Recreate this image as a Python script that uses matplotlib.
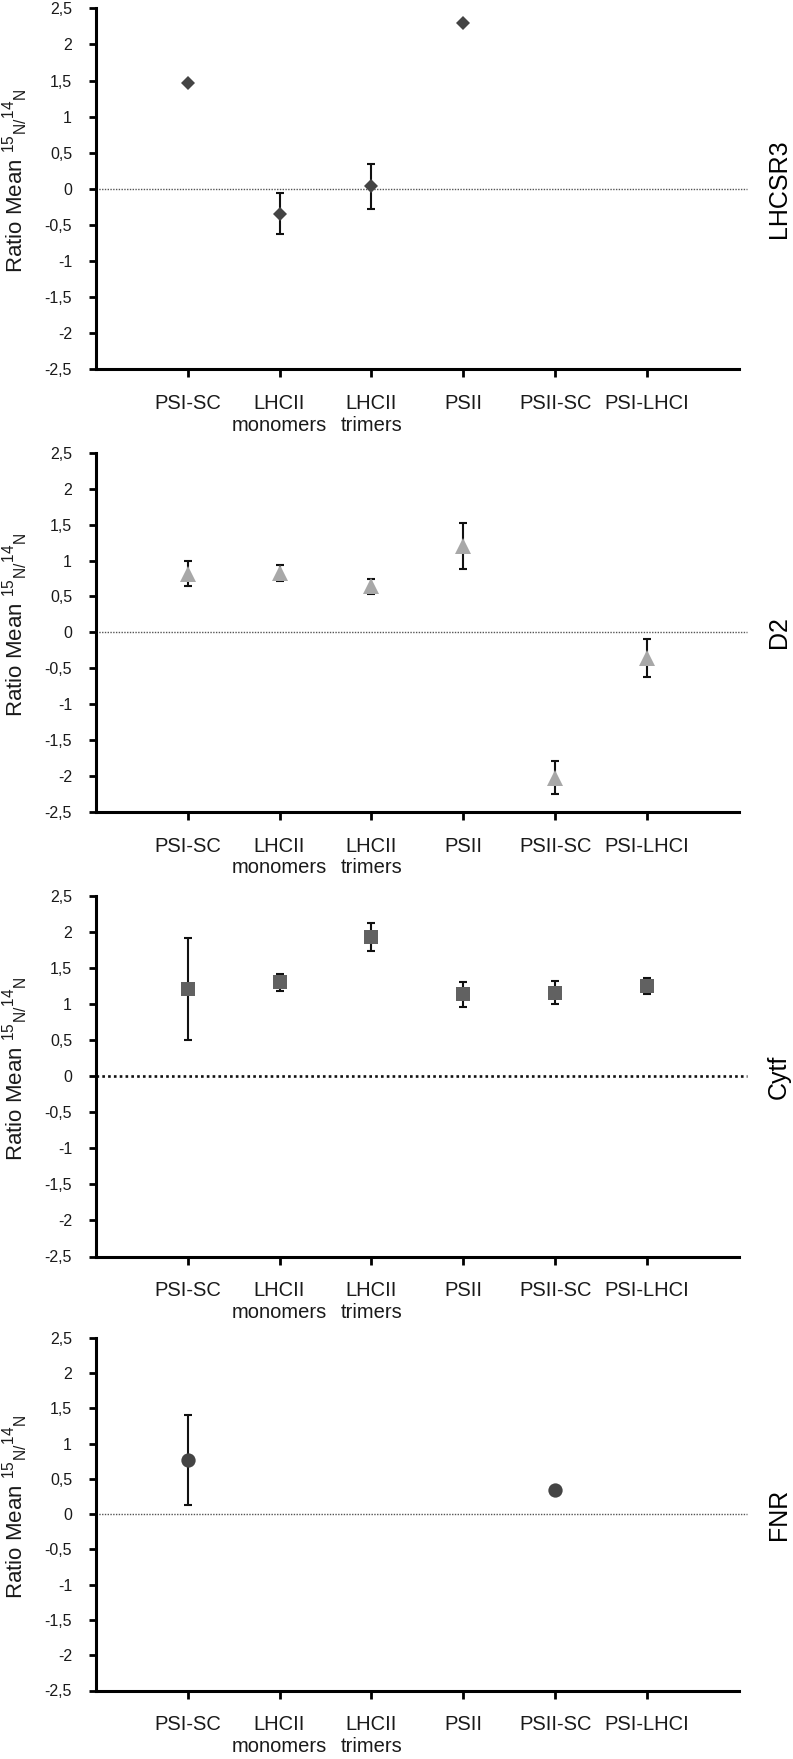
import numpy as np
import matplotlib
matplotlib.use("Agg")
import matplotlib.pyplot as plt
from matplotlib.transforms import blended_transform_factory

plt.rcParams['font.family'] = ['Liberation Sans', 'DejaVu Sans']
plt.rcParams['mathtext.fontset'] = 'custom'
plt.rcParams['mathtext.rm'] = 'Liberation Sans'

# ---------------- data ----------------
categories = ["PSI-SC", "LHCII\nmonomers", "LHCII\ntrimers", "PSII", "PSII-SC", "PSI-LHCI"]
nan = np.nan
lhcsr3_mean = [1.46, -0.345, 0.035, 2.29, nan, nan]
lhcsr3_err = [nan, 0.285, 0.315, nan, nan, nan]
d2_mean = [0.82, 0.83, 0.645, 1.205, -2.025, -0.355]
d2_err = [0.17, 0.11, 0.105, 0.325, 0.225, 0.265]
cytf_mean = [1.21, 1.305, 1.935, 1.14, 1.16, 1.26]
cytf_err = [0.71, 0.115, 0.195, 0.17, 0.16, 0.11]
fnr_mean = [0.765, nan, nan, nan, 0.34, nan]
fnr_err = [0.635, nan, nan, nan, nan, nan]
protein_names = ["LHCSR3", "D2", "Cytf", "FNR"]
ytick_values = [-2.5, -2, -1.5, -1, -0.5, 0, 0.5, 1, 1.5, 2, 2.5]
ytick_labels = ["-2,5", "-2", "-1,5", "-1", "-0,5", "0", "0,5", "1", "1,5", "2", "2,5"]
ylabel_text = r"Ratio Mean $\mathregular{^{15}{}_{N/}{}^{14}{}_{N}}$"

means = [lhcsr3_mean, d2_mean, cytf_mean, fnr_mean]
errs = [lhcsr3_err, d2_err, cytf_err, fnr_err]

# ---------------- styles / layout ----------------
markers = ['D', '^', 's', 'o']
mcolors = ['#444444', '#a8a8a8', '#616161', '#444444']
msizes = [7.2, 12, 9.8, 10.3]
zero_styles = [
    dict(color='#555555', lw=1.0, ls=(0, (1, 1))),
    dict(color='#555555', lw=1.0, ls=(0, (1, 1))),
    dict(color='#111111', lw=1.9, ls=(0, (1, 1.2))),
    dict(color='#555555', lw=1.0, ls=(0, (1, 1))),
]
W, H = 793, 1759
left_px, right_px = 95.7, 739.0
panels_px = [(8.3, 369.3), (453.0, 811.7), (896.4, 1256.5), (1337.7, 1690.5)]

fig = plt.figure(figsize=(W / 100, H / 100), dpi=100)
x = np.arange(1, len(categories) + 1)

for i, (top, bot) in enumerate(panels_px):
    ax = fig.add_axes([left_px / W, 1 - bot / H, (right_px - left_px) / W, (bot - top) / H])
    ax.set_xlim(0, 7)
    ax.set_ylim(-2.5, 2.5)
    for s in ['top', 'right']:
        ax.spines[s].set_visible(False)
    for s in ['left', 'bottom']:
        ax.spines[s].set_linewidth(2.2)
        ax.spines[s].set_color('black')
    ax.set_yticks(ytick_values)
    ax.set_yticklabels(ytick_labels, fontsize=11.5, color='#1a1a1a')
    ax.set_xticks(x)
    ax.set_xticklabels(categories, fontsize=14.5, color='#1a1a1a', linespacing=1.15)
    ax.tick_params(axis='y', length=5, width=2.0, pad=12)
    ax.tick_params(axis='x', length=6, width=2.0, pad=12)

    ax.axhline(0, xmin=0, xmax=1.0125, clip_on=False, zorder=1, **zero_styles[i])

    m = np.array(means[i], dtype=float)
    e = np.array(errs[i], dtype=float)
    ok = np.isfinite(e) & np.isfinite(m)
    if ok.any():
        ax.errorbar(x[ok], m[ok], yerr=e[ok], fmt='none', ecolor='#111111',
                    elinewidth=1.5, capsize=3.0, capthick=1.5, zorder=2)
    ax.plot(x, m, linestyle='none', marker=markers[i], markersize=msizes[i],
            color=mcolors[i], markeredgewidth=0, zorder=3)

    tr = blended_transform_factory(fig.transFigure, ax.transAxes)
    ax.text(15 / W, 0.522, ylabel_text, transform=tr, rotation=90,
            ha='center', va='center', fontsize=16, color='#1a1a1a')
    tr2 = blended_transform_factory(fig.transFigure, ax.transData)
    ax.text(779 / W, 0, protein_names[i], transform=tr2, rotation=90,
            ha='center', va='center', fontsize=18, color='black')

fig.savefig("out.png", dpi=100)
